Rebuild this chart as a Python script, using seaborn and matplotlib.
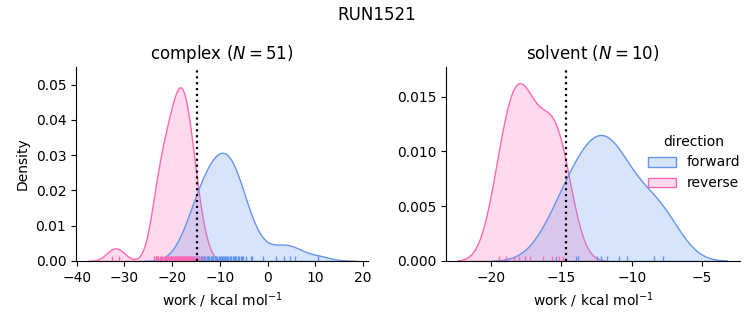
import numpy as np
import pandas as pd
import seaborn as sns
import matplotlib.pyplot as plt

# ---- data (work values, kcal/mol) ----
complex_forward = [-17.8,
                   -16.6, -16.0, -15.6, -15.2,
                   -14.8, -14.4, -14.0, -13.7, -13.4, -13.1,
                   -12.8, -12.5, -12.2, -11.9, -11.7, -11.4, -11.1,
                   -10.9, -10.6, -10.3, -10.0, -9.8, -9.6, -9.4, -9.1,
                   -8.9, -8.7, -8.5, -8.3, -8.0, -7.8, -7.6, -7.3, -7.1,
                   -6.9, -6.6, -6.3, -6.0, -5.7, -5.4, -5.1,
                   -4.6, -3.6, -3.2,
                   -0.9, 1.7, 3.5, 4.7, 5.7, 10.5]
complex_reverse = [-32.6, -31.1,
                   -23.8, -23.5, -23.3, -23.1,
                   -22.9, -22.6, -22.4, -22.1,
                   -21.8, -21.6, -21.3, -21.1,
                   -20.9, -20.7, -20.5, -20.3, -20.1,
                   -19.9, -19.7, -19.5, -19.3, -19.15, -19.0,
                   -18.9, -18.75, -18.6, -18.45, -18.3, -18.15, -18.05,
                   -17.9, -17.75, -17.6, -17.45, -17.3, -17.15, -17.05,
                   -16.9, -16.75, -16.6, -16.4, -16.25, -16.1,
                   -15.8, -15.5, -15.2,
                   -14.8, -14.3,
                   -13.6]
solvent_forward = [-15.4, -13.95, -13.8, -12.45, -12.2, -11.75, -10.9, -10.3, -8.4, -7.8]
solvent_reverse = [-19.4, -18.9, -18.4, -18.0, -17.6, -17.2, -16.3, -15.7, -15.2, -14.9]

phases = ["complex", "solvent"]
directions = ["forward", "reverse"]
estimates = [-14.8, -14.66]          # dotted vertical lines
colors = ["cornflowerblue", "hotpink"]
xlims = [(-40.15, 21.0), (-23.2, -2.3)]
ylims = [0.055, 0.0177]
run_name = "RUN1521"

works = {("complex", "forward"): complex_forward, ("complex", "reverse"): complex_reverse,
         ("solvent", "forward"): solvent_forward, ("solvent", "reverse"): solvent_reverse}
recs = []
for (ph, d), vals in works.items():
    for v in vals:
        recs.append({"phase": ph, "direction": d, "work": v})
df = pd.DataFrame(recs)

g = sns.displot(data=df, x="work", hue="direction", col="phase", kind="kde",
                fill=True, rug=True, hue_order=directions, col_order=phases,
                palette=colors, facet_kws=dict(sharex=False, sharey=False),
                height=3, aspect=1.1)

fig = g.figure
fig.set_size_inches(7.53, 3.25)
W, H = 753, 325
axes = g.axes.flat
pos = [(76, 368), (446, 740)]
for ax, ph, est, xl, yl, (x0, x1) in zip(axes, phases, estimates, xlims, ylims, pos):
    n = len(works[(ph, "forward")])
    ax.axvline(est, color="black", linestyle=":", linewidth=1.6)
    ax.set_title(f"{ph} ($N={n}$)", fontsize=12)
    ax.set_xlabel("work / kcal mol$^{-1}$")
    ax.set_xlim(*xl)
    ax.set_ylim(0, yl)
    ax.set_position([x0 / W, (H - 261) / H, (x1 - x0) / W, (261 - 67) / H])

axes[0].set_ylabel("Density")
axes[1].set_ylabel("")
fig.suptitle(run_name, fontsize=12)
leg = g._legend
leg.set_bbox_to_anchor((1.0, 0.5), transform=fig.transFigure)
fig.savefig("out.png", dpi=100)
